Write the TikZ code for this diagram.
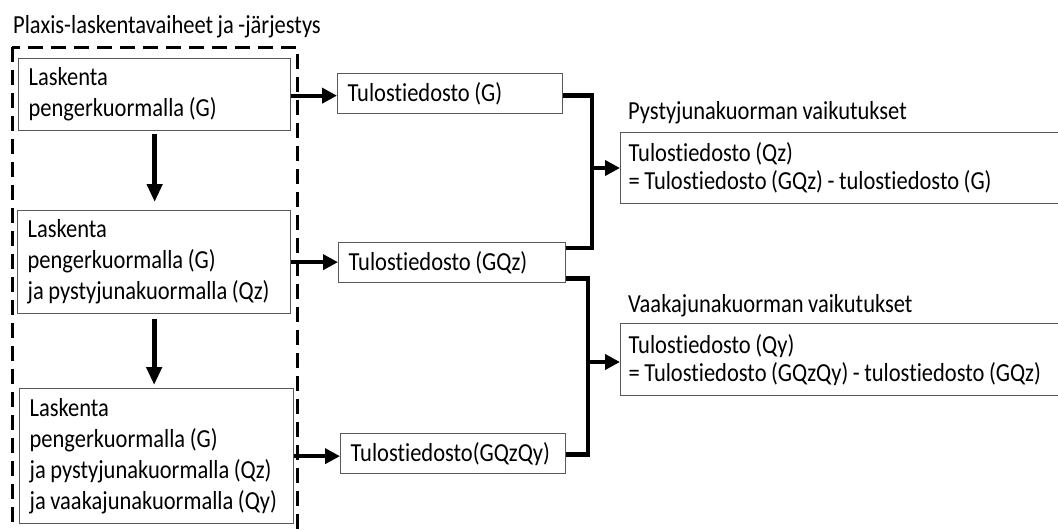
\documentclass[tikz,border=0pt]{standalone}
\usepackage{fontspec}
\setmainfont{Carlito}[FakeStretch=0.865, WordSpace=0.9, Ligatures=NoCommon]
\usetikzlibrary{arrows.meta}
\definecolor{boxgray}{HTML}{595959}
\begin{document}
\begin{tikzpicture}[x=1pt,y=-1pt,
  txt/.style={font=\fontsize{26}{31}\selectfont, text=black},
  box/.style={txt, draw=boxgray, line width=1.3pt, anchor=north west,
    inner xsep=10pt, inner ysep=0pt, align=left,
    execute at begin node={\spaceskip=0pt\xspaceskip=0pt}},
  resbox/.style={box, inner xsep=8pt, font=\fontsize{26}{28}\selectfont},
  heading/.style={txt, anchor=base west, inner sep=0pt},
  conn/.style={line width=4.2pt, -{Triangle[length=15pt,width=15pt]}},
  connv/.style={line width=5pt, -{Triangle[length=18pt,width=15pt]}},
  bar/.style={line width=4.6pt, line join=miter},
  stagebox/.style={line width=3pt, dash pattern=on 15pt off 8pt}
]
\useasboundingbox (0,0) rectangle (1058,530);

% heading and frame of the calculation stages
\node[heading] (title) at (13,33) {Plaxis-laskentavaiheet ja -järjestys};
\draw[stagebox] (12,47) rectangle (297,548);

% calculation stages
\node[box, text width=252pt, minimum height=72pt] (b1) at (18,58)
  {Laskenta\\pengerkuormalla (G)};
\node[box, text width=253pt, minimum height=103pt] (b2) at (17,210)
  {Laskenta\\pengerkuormalla (G)\\\mbox{ja pystyjunakuormalla (Qz)}};
\node[box, text width=254pt, minimum height=135pt] (b3) at (19,388)
  {Laskenta\\pengerkuormalla (G)\\\mbox{ja pystyjunakuormalla (Qz)}\\\mbox{ja vaakajunakuormalla (Qy)}};

% output files
\node[box, text width=205pt, minimum height=40pt] (t1) at (337,73) {Tulostiedosto (G)};
\node[box, text width=207pt, minimum height=40pt] (t2) at (338,242) {Tulostiedosto (GQz)};
\node[box, text width=205pt, minimum height=40pt] (t3) at (340,433) {\mbox{Tulostiedosto(GQzQy)}};

% load effects
\node[heading] (h1) at (628,119) {Pystyjunakuorman vaikutukset};
\node[resbox, text width=429pt, minimum height=71pt] (r1) at (620,132)
  {Tulostiedosto (Qz)\\= Tulostiedosto (GQz) - tulostiedosto (G)};
\node[heading] (h2) at (628,312) {Vaakajunakuorman vaikutukset};
\node[resbox, text width=429pt, minimum height=72pt] (r2) at (620,323)
  {Tulostiedosto (Qy)\\\mbox{= Tulostiedosto (GQzQy) - tulostiedosto (GQz)}};

% stage sequence
\draw[connv, shorten <=3pt, shorten >=8pt] (b1.south) -- (b1.south |- b2.north);
\draw[connv, shorten <=5pt, shorten >=3pt] (b2.south) -- (b2.south |- b3.north);

% stage to output file
\coordinate (s1) at ([yshift=-1pt]b1.east);
\draw[conn] (s1) -- (t1.west |- s1);
\draw[conn] (b2.east) -- (t2.west |- b2.east);
\draw[conn] (b3.east) -- (t3.west |- b3.east);

% combining output files
\coordinate (j1) at (592,168);
\coordinate (j2) at (588,362);
\draw[bar] ([yshift=-2pt]t1.east) -| (j1) |- ([yshift=-6pt]t2.north east);
\draw[conn] (j1) -- (r1.west |- j1);
\draw[bar] ([yshift=5pt]t2.south east) -| (j2) |- ([yshift=-1pt]t3.east);
\draw[conn] (j2) -- (r2.west |- j2);
\end{tikzpicture}
\end{document}
